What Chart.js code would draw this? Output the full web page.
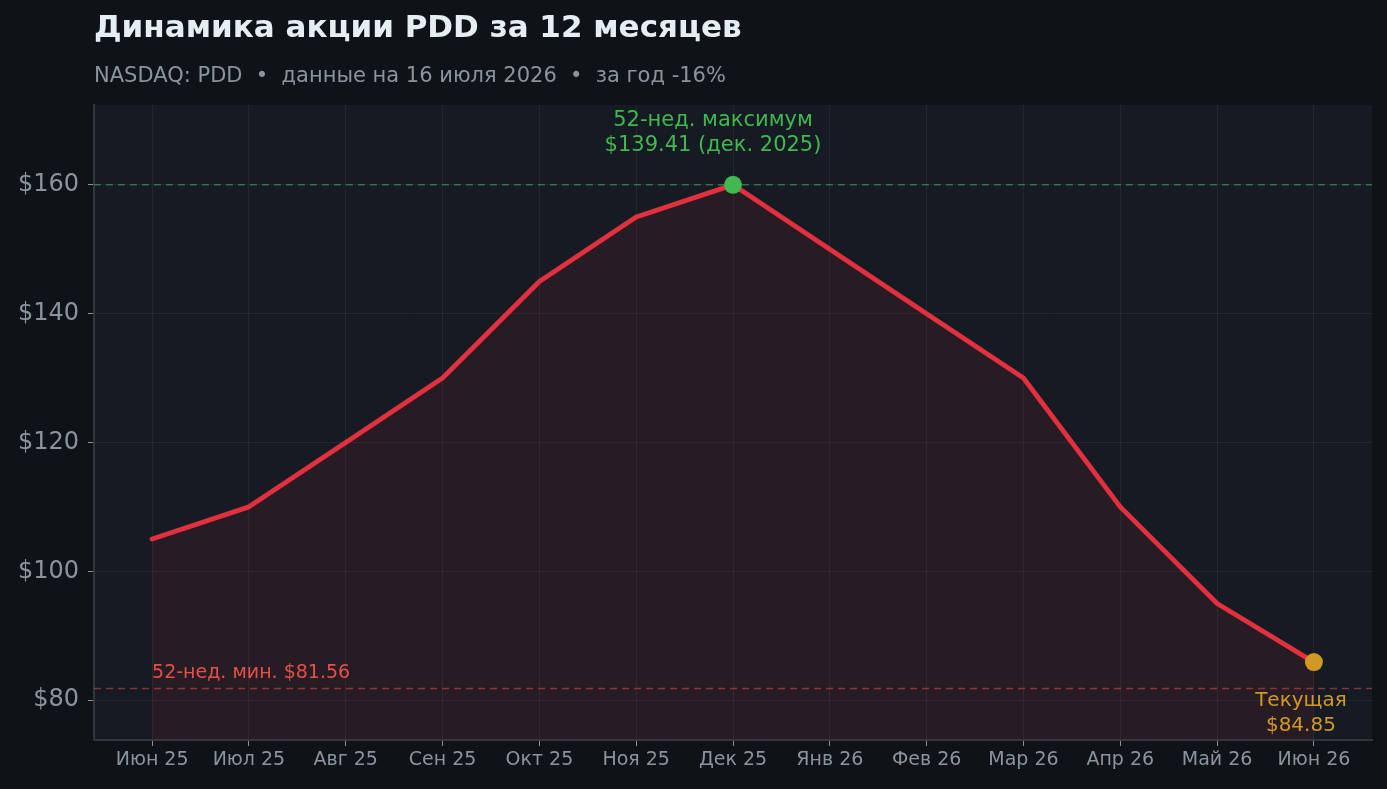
<!DOCTYPE html>
<html>
<head>
<meta charset="utf-8">
<script src="https://cdn.jsdelivr.net/npm/chart.js@4.4.1/dist/chart.umd.min.js"></script>
<style>
  html, body { margin: 0; padding: 0; background: #0f1318; }
  #wrap { width: 1387px; height: 789px; position: relative; }
</style>
</head>
<body>
<div id="wrap"><canvas id="priceChart"></canvas></div>
<script>
// data
const months = ['Июн 25', 'Июл 25', 'Авг 25', 'Сен 25', 'Окт 25', 'Ноя 25', 'Дек 25',
                'Янв 26', 'Фев 26', 'Мар 26', 'Апр 26', 'Май 26', 'Июн 26'];
const prices = [105, 110, 120, 130, 145, 155, 160, 150, 140, 130, 110, 95, 85.9];
const yTicks = [80, 100, 120, 140, 160];
const highLine = 160;
const lowLine = 81.8;
const highIndex = 6;
const lastIndex = 12;

const title = 'Динамика акции PDD за 12 месяцев';
const subtitle = 'NASDAQ: PDD  •  данные на 16 июля 2026  •  за год -16%';
const highLabel = ['52-нед. максимум', '$139.41 (дек. 2025)'];
const lowLabel = '52-нед. мин. $81.56';
const lastLabel = ['Текущая', '$84.85'];

const RED = '#e3303f';
const GREEN = '#3fb950';
const ORANGE = '#d29922';
const FONT = '"DejaVu Sans", sans-serif';

const pointSizes = prices.map((_, i) => (i === highIndex || i === lastIndex) ? 9 : 0);
const pointColors = prices.map((_, i) => i === highIndex ? GREEN : (i === lastIndex ? ORANGE : RED));

// page + plot background, title texts
const backdrop = {
  id: 'backdrop',
  beforeDraw(chart) {
    const { ctx, chartArea: a } = chart;
    ctx.save();
    ctx.fillStyle = '#0f1318';
    ctx.fillRect(0, 0, chart.width, chart.height);
    ctx.fillStyle = '#161a22';
    ctx.fillRect(a.left, a.top, a.right - a.left, a.bottom - a.top);

    ctx.textAlign = 'left';
    ctx.textBaseline = 'middle';
    ctx.fillStyle = '#e6edf3';
    ctx.font = 'bold 31px ' + FONT;
    ctx.fillText(title, 94, 29);
    ctx.fillStyle = '#8b949e';
    ctx.font = '21px ' + FONT;
    ctx.fillText(subtitle, 94, 77);
    ctx.restore();
  }
};

// 52-week lines and their labels
const marks = {
  id: 'marks',
  beforeDatasetsDraw(chart) {
    const { ctx, chartArea: a, scales: { x, y } } = chart;
    const yHigh = y.getPixelForValue(highLine);
    const yLow = y.getPixelForValue(lowLine);
    ctx.save();
    ctx.lineWidth = 1.5;
    ctx.setLineDash([7, 5]);
    ctx.strokeStyle = 'rgba(63,185,80,0.55)';
    ctx.beginPath(); ctx.moveTo(a.left, yHigh); ctx.lineTo(a.right, yHigh); ctx.stroke();
    ctx.strokeStyle = 'rgba(229,72,77,0.55)';
    ctx.beginPath(); ctx.moveTo(a.left, yLow); ctx.lineTo(a.right, yLow); ctx.stroke();
    ctx.setLineDash([]);

    ctx.textBaseline = 'middle';
    ctx.font = '19px ' + FONT;
    ctx.fillStyle = '#e5534b';
    ctx.textAlign = 'left';
    ctx.fillText(lowLabel, x.getPixelForValue(0), yLow - 15);
    ctx.restore();
  },
  afterDatasetsDraw(chart) {
    const { ctx, scales: { x, y } } = chart;
    ctx.save();
    ctx.textAlign = 'center';
    ctx.textBaseline = 'middle';
    ctx.font = '21px ' + FONT;
    ctx.fillStyle = GREEN;
    const hx = x.getPixelForValue(highIndex);
    const hy = y.getPixelForValue(prices[highIndex]);
    ctx.fillText(highLabel[0], hx - 20, hy - 64);
    ctx.fillText(highLabel[1], hx - 20, hy - 39);

    ctx.font = '20px ' + FONT;
    ctx.fillStyle = ORANGE;
    const lx = x.getPixelForValue(lastIndex) - 13;
    const ly = y.getPixelForValue(prices[lastIndex]);
    ctx.fillText(lastLabel[0], lx, ly + 39);
    ctx.fillText(lastLabel[1], lx, ly + 64);
    ctx.restore();
  }
};

new Chart(document.getElementById('priceChart'), {
  type: 'line',
  data: {
    datasets: [{
      data: prices.map((p, i) => ({ x: i, y: p })),
      borderColor: RED,
      borderWidth: 4.8,
      borderJoinStyle: 'round',
      borderCapStyle: 'round',
      tension: 0,
      fill: 'start',
      backgroundColor: 'rgba(227,48,63,0.095)',
      pointRadius: pointSizes,
      pointBackgroundColor: pointColors,
      pointBorderWidth: 0,
      pointHoverRadius: pointSizes
    }]
  },
  options: {
    responsive: true,
    maintainAspectRatio: false,
    devicePixelRatio: 1,
    animation: false,
    layout: { padding: { top: 105, right: 15, left: 0, bottom: 0 } },
    plugins: { legend: { display: false }, tooltip: { enabled: false } },
    scales: {
      x: {
        type: 'linear',
        min: -0.6,
        max: 12.6,
        afterBuildTicks: scale => { scale.ticks = months.map((_, i) => ({ value: i })); },
        afterFit: scale => { scale.height = 49; },
        ticks: {
          callback: v => months[v],
          color: '#8b949e',
          font: { family: FONT, size: 19 },
          padding: 3,
          maxRotation: 0,
          autoSkip: false
        },
        grid: { color: 'rgba(255,255,255,0.055)', tickColor: '#8b949e', tickLength: 6, lineWidth: 1 },
        border: { display: true, color: '#30363d', width: 2 }
      },
      y: {
        min: 73.8,
        max: 172.4,
        afterBuildTicks: scale => { scale.ticks = yTicks.map(v => ({ value: v })); },
        afterFit: scale => { scale.width = 94; },
        ticks: {
          callback: v => '$' + v,
          color: '#8b949e',
          font: { family: FONT, size: 24 },
          padding: 9
        },
        grid: { color: 'rgba(255,255,255,0.055)', tickColor: '#8b949e', tickLength: 6, lineWidth: 1 },
        border: { display: true, color: '#30363d', width: 2 }
      }
    }
  },
  plugins: [backdrop, marks]
});
</script>
</body>
</html>
